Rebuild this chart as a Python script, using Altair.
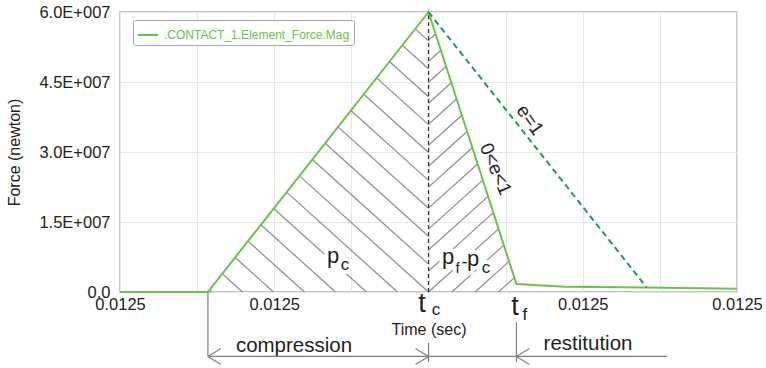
import math

import altair as alt
import numpy as np
import pandas as pd

# ---- data -------------------------------------------------------------
T0, T1 = 0.0125, 0.012508          # time axis range (s)
F_MAX = 6.0e7                      # force axis range (N)
W, H = 617, 280                    # plot area size (px)

SERIES = ".CONTACT_1.Element_Force.Mag"
time_s = [0.01250000, 0.01250114, 0.01250400, 0.01250514, 0.01250577, 0.01250683, 0.01250800]
force_n = [0.0, 0.0, 6.0e7, 1.7e6, 1.15e6, 0.95e6, 0.7e6]

# perfectly elastic restitution (e = 1)
elastic_time = [0.01250400, 0.01250683]
elastic_force = [6.0e7, 0.95e6]

T_START, T_C, T_F = 0.01250114, 0.01250400, 0.01250514
F_TF = 1.7e6

x_ticks = [T0 + k * 1e-6 for k in range(9)]
x_label_idx = [0, 2, 6, 8]
y_ticks = [k * 7.5e6 for k in range(9)]

# text annotations (alphabetic baseline)
ann_t = [0.012503916, 0.012504097, 0.012505122, 0.012505251,
         0.012502256, 0.012506068]
ann_f = [-4.3e6, -5.0e6, -4.93e6, -6.0e6, -12.86e6, -12.43e6]
ann_text = ["t", "c", "t", "f", "compression", "restitution"]
ann_size = [27, 17, 27, 17, 20.5, 20.5]

# impulse labels inside the hatched areas
imp_t = [0.012502762, 0.012502917, 0.012504253, 0.012504376, 0.012504467, 0.012504577, 0.012504746]
imp_f = [6.21e6, 4.71e6, 6.0e6, 4.07e6, 5.14e6, 5.57e6, 4.07e6]
imp_text = ["p", "c", "p", "f", "-", "p", "c"]
imp_size = [22, 17, 22, 15, 18, 22, 17]

# labels running along the restitution lines
rot_t = [0.012505316, 0.012504870]
rot_f = [3.686e7, 2.636e7]
rot_text = ["e=1", "0<e<1"]
rot_angle = [55, 67]

BRACKET_F = -13.8e6

# ---- helpers ----------------------------------------------------------
PX_T = (T1 - T0) / W   # seconds per pixel
PX_F = F_MAX / H       # newtons per pixel


def to_px(t, f):
    return np.array([(t - T0) / PX_T, f / PX_F])


def to_data(p):
    return T0 + p[0] * PX_T, p[1] * PX_F


def hatch(poly, direction, gap_x, anchor):
    """Parallel segments clipped to a convex polygon (pixel-space spacing)."""
    d = np.array(direction, float)
    d /= np.linalg.norm(d)
    n = np.array([-d[1], d[0]])
    pts = [to_px(*p) for p in poly]
    step = gap_x * abs(n[0])
    s0 = to_px(*anchor) @ n
    svals = [p @ n for p in pts]
    k = math.ceil((min(svals) - s0) / step)
    rows = []
    s = s0 + k * step
    while s < max(svals):
        hits = []
        for i in range(len(pts)):
            a, b = pts[i], pts[(i + 1) % len(pts)]
            sa, sb = a @ n, b @ n
            if sa == sb:
                continue
            u = (s - sa) / (sb - sa)
            if 0 <= u <= 1:
                hits.append(a + u * (b - a))
        if len(hits) >= 2:
            hits.sort(key=lambda p: p @ d)
            p0, p1 = hits[0], hits[-1]
            if np.linalg.norm(p1 - p0) > 1.5:
                t0, f0 = to_data(p0)
                t1, f1 = to_data(p1)
                rows.append({"t": t0, "f": f0, "t2": t1, "f2": f1})
        s += step
    return rows


hatch_rows = hatch([(T_START, 0), (T_C, F_MAX), (T_C, 0)], (1, -0.9), 31, (T_C, 0))
hatch_rows += hatch([(T_C, 0), (T_C, F_MAX), (T_F, F_TF), (T_F, 0)], (1, 0.9), 23.3, (T_C, 0))
hatch_df = pd.DataFrame(hatch_rows)

# bracket lines and arrow heads below the axis
AH_T, AH_F = 13 * PX_T, 8 * PX_F
bracket = [
    (T_START, 0.0, T_START, BRACKET_F),
    (T_START, BRACKET_F, T0 + 547 * PX_T, BRACKET_F),
    (T_C, -10.9e6, T_C, -15.0e6),
    (T_F, -6.4e6, T_F, -15.0e6),
]
for tip, sgn in [(T_START, 1), (T_C, -1), (T_F, 1)]:
    bracket.append((tip, BRACKET_F, tip + sgn * AH_T, BRACKET_F + AH_F))
    bracket.append((tip, BRACKET_F, tip + sgn * AH_T, BRACKET_F - AH_F))
bracket_df = pd.DataFrame(bracket, columns=["t", "f", "t2", "f2"])

main_df = pd.DataFrame({"t": time_s, "f": force_n, "series": SERIES})
elastic_df = pd.DataFrame({"t": elastic_time, "f": elastic_force})
tc_df = pd.DataFrame({"t": [T_C], "f": [0.0], "f2": [F_MAX]})
ann_df = pd.DataFrame({"t": ann_t, "f": ann_f, "text": ann_text, "size": ann_size})
imp_df = pd.DataFrame({"t": imp_t, "f": imp_f, "text": imp_text, "size": imp_size})
rot_df = pd.DataFrame({"t": rot_t, "f": rot_f, "text": rot_text, "angle": rot_angle})

# ---- chart ------------------------------------------------------------
FONT = "Liberation Sans"
GREEN = "#6cc24a"
DARK_GREEN = "#1e9a56"
INK = "#222222"

x_label_expr = (
    f"indexof({x_label_idx}, round((datum.value - {T0}) * 1e6)) >= 0 "
    "? format(datum.value, '.4f') : ''"
)
y_label_expr = (
    "round(datum.value / 7.5e6) % 2 == 0 ? "
    "(datum.value == 0 ? '0.0' : format(datum.value / 1e7, '.1f') + 'E+007') : ''"
)

x_enc = alt.X(
    "t:Q",
    scale=alt.Scale(domain=[T0, T1], nice=False, zero=False),
    axis=alt.Axis(
        values=x_ticks, labelExpr=x_label_expr, title="Time (sec)",
        labelFlush=False, labelOverlap=False, ticks=False, domain=False,
        labelPadding=4, titlePadding=9,
    ),
)
y_enc = alt.Y(
    "f:Q",
    scale=alt.Scale(domain=[0, F_MAX], nice=False),
    axis=alt.Axis(
        values=y_ticks, labelExpr=y_label_expr, title="Force (newton)",
        labelFlush=False, labelOverlap=False, ticks=False, domain=False,
        labelPadding=10, titlePadding=16,
    ),
)

hatch_layer = alt.Chart(hatch_df).mark_rule(color="#8c8c8c", strokeWidth=1.2).encode(
    x=x_enc, y=y_enc, x2="t2:Q", y2="f2:Q"
)

main_layer = alt.Chart(main_df).mark_line(strokeWidth=2).encode(
    x="t:Q", y="f:Q",
    color=alt.Color(
        "series:N",
        scale=alt.Scale(range=[GREEN]),
        legend=alt.Legend(
            title=None, orient="none", legendX=13, legendY=8,
            symbolType="stroke", symbolSize=400, symbolStrokeWidth=2,
            labelFont=FONT, labelFontSize=12, labelColor=GREEN, labelLimit=0,
            strokeColor="#a8a8a8", fillColor="white", padding=4,
            cornerRadius=2, labelOffset=5,
        ),
    ),
)

elastic_layer = alt.Chart(elastic_df).mark_line(
    color=DARK_GREEN, strokeWidth=2, strokeDash=[6, 4]
).encode(x="t:Q", y="f:Q")

tc_layer = alt.Chart(tc_df).mark_rule(
    color="#333333", strokeWidth=1.2, strokeDash=[4, 3]
).encode(x="t:Q", y="f:Q", y2="f2:Q")

bracket_layer = alt.Chart(bracket_df).mark_rule(color="#808080", strokeWidth=1.2).encode(
    x="t:Q", y="f:Q", x2="t2:Q", y2="f2:Q"
)

ann_layer = alt.Chart(ann_df).mark_text(
    font=FONT, color=INK, align="center", baseline="alphabetic"
).encode(x="t:Q", y="f:Q", text="text:N", size=alt.Size("size:Q", scale=None))

imp_halo = alt.Chart(imp_df).mark_text(
    font=FONT, color="white", stroke="white", strokeWidth=8, strokeJoin="round",
    align="center", baseline="alphabetic",
).encode(x="t:Q", y="f:Q", text="text:N", size=alt.Size("size:Q", scale=None))

imp_layer = alt.Chart(imp_df).mark_text(
    font=FONT, color=INK, align="center", baseline="alphabetic"
).encode(x="t:Q", y="f:Q", text="text:N", size=alt.Size("size:Q", scale=None))

rot_layer = alt.Chart(rot_df).mark_text(
    font=FONT, color=INK, fontSize=19, align="center", baseline="middle"
).encode(x="t:Q", y="f:Q", text="text:N", angle=alt.Angle("angle:Q", scale=None))

chart = (
    alt.layer(
        hatch_layer, tc_layer, main_layer, elastic_layer,
        imp_halo, imp_layer, rot_layer, ann_layer, bracket_layer,
    )
    .properties(
        width=W, height=H,
        autosize=alt.AutoSizeParams(type="none"),
        padding={"left": 120, "top": 12, "right": 29, "bottom": 76},
        background="white",
    )
    .configure_view(stroke="#b4b4b4", strokeWidth=1.5)
    .configure_axis(
        grid=True, gridColor="#e6e6e6", gridWidth=1,
        labelFont=FONT, labelFontSize=16.5, labelColor=INK,
        titleFont=FONT, titleFontSize=16, titleFontWeight="normal", titleColor=INK,
    )
    .configure_axisY(titleFontSize=16)
)

chart.save("out.html", embed_options={"renderer": "svg", "actions": False})
